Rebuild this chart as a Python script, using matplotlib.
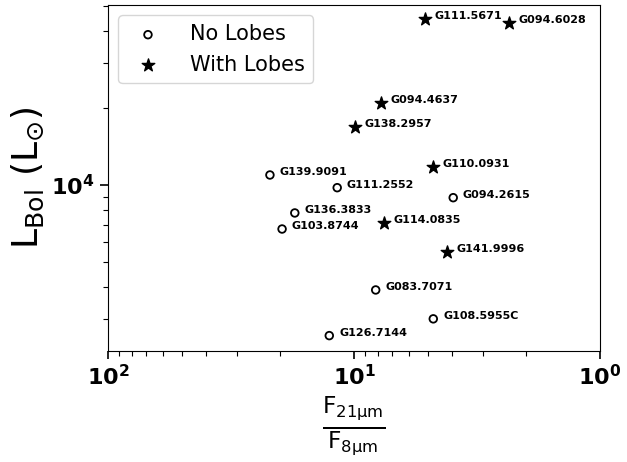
import matplotlib
matplotlib.use("Agg")
import matplotlib.pyplot as plt
from matplotlib.ticker import LogFormatterMathtext

# sources without lobes
no_lobe_names = ["G139.9091", "G111.2552", "G094.2615", "G136.3833", "G103.8744",
                 "G083.7071", "G108.5955C", "G126.7144"]
no_lobe_ratio = [21.96, 11.7, 3.95, 17.4, 19.6, 8.16, 4.76, 12.6]
no_lobe_lbol = [10940, 9760, 8920, 7775, 6730, 3890, 3000, 2580]

# sources with lobes
lobe_names = ["G111.5671", "G094.6028", "G094.4637", "G138.2957", "G110.0931",
              "G114.0835", "G141.9996"]
lobe_ratio = [5.14, 2.34, 7.79, 9.91, 4.79, 7.55, 4.2]
lobe_lbol = [44400, 42850, 20970, 16900, 11790, 7085, 5460]


def main() -> None:
    fig = plt.figure(figsize=(6.27, 4.62), dpi=100)
    ax = fig.add_axes([0.1722, 0.2403, 0.7847, 0.7489])

    ax.scatter(no_lobe_ratio, no_lobe_lbol, s=30, marker="o", facecolors="none",
               edgecolors="black", linewidths=1.3, label="No Lobes")
    ax.scatter(lobe_ratio, lobe_lbol, s=90, marker="*", color="black", label="With Lobes")

    for name, x, y in zip(no_lobe_names + lobe_names, no_lobe_ratio + lobe_ratio, no_lobe_lbol + lobe_lbol):
        ax.annotate(name, (x, y), xytext=(7, 0), textcoords="offset points",
                    fontsize=8, fontweight="bold", va="baseline", ha="left")

    ax.set_xscale("log")
    ax.set_yscale("log")
    ax.set_xlim(100, 1)
    ax.set_ylim(2247, 50470)

    fmt = LogFormatterMathtext()
    bold = plt.FuncFormatter(lambda v, p: fmt(v, p).replace("\\mathdefault", "\\mathbf"))
    ax.xaxis.set_major_formatter(bold)
    ax.yaxis.set_major_formatter(bold)
    ax.yaxis.set_minor_formatter(plt.NullFormatter())
    ax.tick_params(axis="both", which="major", labelsize=16, length=6, width=1.2)
    ax.tick_params(axis="both", which="minor", length=3.5, width=0.8)

    ax.set_xlabel(r"$\frac{\mathrm{F_{21\mu m}}}{\mathrm{F_{8\mu m}}}$", fontsize=24)
    ax.set_ylabel(r"$\mathrm{L_{Bol}\ (L_{\odot})}$", fontsize=26)

    ax.legend(loc="upper left", fontsize=15, handletextpad=1.0, borderpad=0.42)

    fig.savefig("out.png", dpi=100)
    plt.close(fig)


if __name__ == "__main__":
    main()
